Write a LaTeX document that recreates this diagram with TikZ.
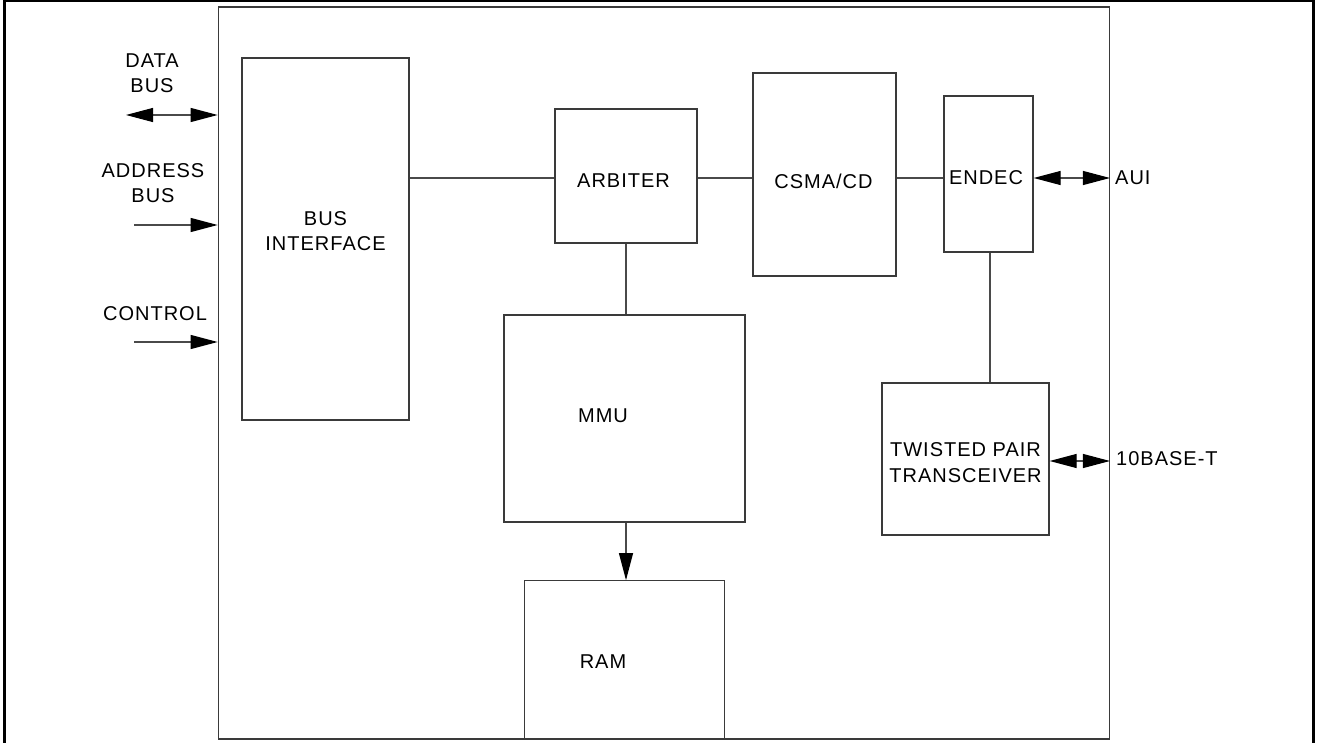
\documentclass[tikz,border=0pt]{standalone}
\usepackage{fontspec}
\setmainfont[LetterSpace=5]{Liberation Sans}
\usetikzlibrary{arrows.meta}
\definecolor{boxline}{HTML}{3A3A3A}
\definecolor{wire}{HTML}{4A4A4A}
\tikzset{
  blk/.style={draw=boxline, line width=1.3pt, rectangle, inner sep=0pt},
  lbl/.style={inner sep=0pt, align=center, font=\fontsize{20}{25}\selectfont},
  wireline/.style={draw=wire, line width=1.1pt},
  tipshape/.tip={Triangle[length=27pt,width=14pt,color=black]},
  head/.style={-tipshape},
  heads/.style={tipshape-tipshape},
}
\begin{document}
\begin{tikzpicture}[x=1pt,y=-1pt]
\useasboundingbox (0,0) rectangle (1317,743);
% outer frame (open at bottom)
\begin{scope}
\clip (0,0) rectangle (1317,743);
\draw[line width=2.4pt, black] (4.5,760) -- (4.5,1) -- (1313.3,1) -- (1313.3,760);
\end{scope}
% inner frame
\node[blk, minimum width=891pt, minimum height=732pt] (chip) at (663.8,372.9) {};
% blocks
\node[blk, minimum width=167pt, minimum height=362pt] (bus) at (325.5,239) {};
\node[blk, minimum width=142pt, minimum height=134pt] (arb) at (626,176) {};
\node[blk, minimum width=143pt, minimum height=203pt] (csma) at (824.5,174.5) {};
\node[blk, minimum width=89pt, minimum height=156pt] (endec) at (988.5,174) {};
\node[blk, minimum width=241pt, minimum height=207pt] (mmu) at (624.5,418.5) {};
\node[blk, minimum width=200pt, minimum height=158pt] (ram) at (624.7,659.8) {};
\node[blk, minimum width=167pt, minimum height=152pt] (tp) at (965.5,459) {};
% block texts
\node[lbl, font=\fontsize{20}{24.3}\selectfont] (bust) at (325.5,231) {BUS\\INTERFACE};
\node[lbl, anchor=base] (arbt) at (623.5,188) {ARBITER};
\node[lbl, anchor=base] (csmat) at (823.5,189) {CSMA/CD};
\node[lbl, anchor=base] (endect) at (986,185) {ENDEC};
\node[lbl, anchor=base] (mmut) at (603,422) {MMU};
\node[lbl, anchor=base] (ramt) at (603,668) {RAM};
\node[lbl, font=\fontsize{20}{26}\selectfont] (tpt) at (965.5,463) {TWISTED PAIR\\TRANSCEIVER};
% internal connections
\draw[wireline] (bus.east |- 0,178) -- (arb.west |- 0,178);
\draw[wireline] (arb.east |- 0,178) -- (csma.west |- 0,178);
\draw[wireline] (csma.east |- 0,178) -- (endec.west |- 0,178);
\draw[wireline] (arb.south -| 626,0) -- (mmu.north -| 626,0);
\draw[wireline, head] (mmu.south -| 626,0) -- (ram.north -| 626,0);
\draw[wireline] (endec.south -| 990,0) -- (tp.north -| 990,0);
% external connections
\coordinate (dbL) at (126,115);
\coordinate (abL) at (134,225);
\coordinate (ctL) at (134,342);
\coordinate (auiR) at (chip.east |- 0,178);
\coordinate (tbR) at (chip.east |- 0,461);
\draw[wireline, heads] (dbL) -- (dbL -| chip.west);
\draw[wireline, head] (abL) -- (abL -| chip.west);
\draw[wireline, head] (ctL) -- (ctL -| chip.west);
\draw[wireline, heads] (endec.east |- auiR) -- (auiR);
\draw[wireline, heads] (tp.east |- tbR) -- (tbR);
% labels
\node[lbl] (dbt) at (152,73) {DATA\\BUS};
\node[lbl] (abt) at (153,183) {ADDRESS\\BUS};
\node[lbl, anchor=base] (ctt) at (155,320) {CONTROL};
\node[lbl, anchor=base west] (auit) at (1115,185) {AUI};
\node[lbl, anchor=base west] (tbt) at (1116,465) {10BASE-T};
\end{tikzpicture}
\end{document}
